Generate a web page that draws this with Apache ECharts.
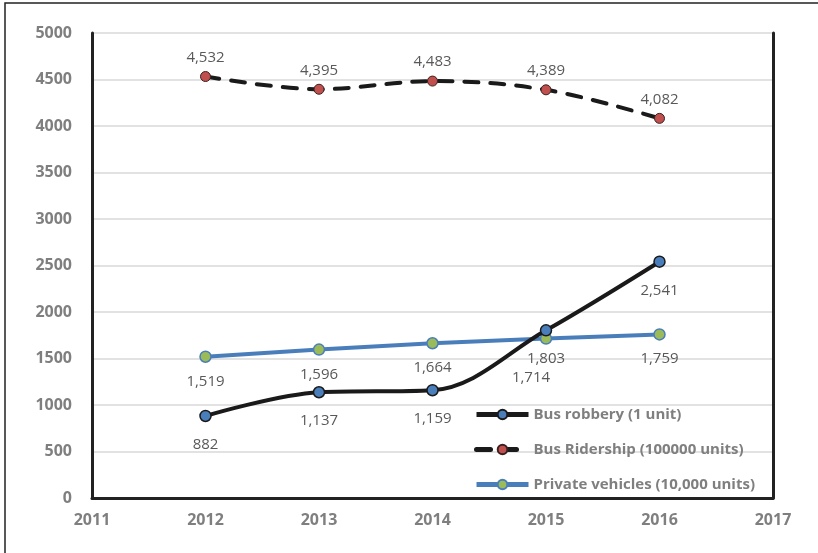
<!DOCTYPE html>
<html lang="en">
<head>
    <meta charset="UTF-8">
    <title>Bus robbery chart</title>
    <style>
        html, body { margin: 0; padding: 0; background: #fff; }
        #main { width: 818px; height: 553px; }
    </style>
</head>
<body>
<div id="main"></div>
<script src="https://cdn.jsdelivr.net/npm/echarts@6/dist/echarts.min.js"></script>
<script>
    // data
    const years = [2012, 2013, 2014, 2015, 2016];
    const busRobbery = [882, 1137, 1159, 1803, 2541];
    const busRidership = [4532, 4395, 4483, 4389, 4082];
    const privateVehicles = [1519, 1596, 1664, 1714, 1759];
    const seriesNames = ['Bus robbery (1 unit)', 'Bus Ridership (100000 units)', 'Private vehicles (10,000 units)'];

    const fontFamily = '"Open Sans", "Noto Sans", sans-serif';
    const fmt = v => v.toLocaleString('en-US');

    function pairs(vals) {
        return years.map((y, i) => [y, vals[i]]);
    }

    const labelStyle = {
        show: true,
        color: '#595959',
        fontSize: 15,
        fontFamily: fontFamily,
        formatter: p => fmt(p.value[1])
    };

    // 1,714 label sits a bit off to the lower left in the original
    const privData = pairs(privateVehicles).map((d, i) =>
        years[i] === 2015 ? { value: d, label: { offset: [-15, 14] } } : d);

    const axisText = {color: '#7f7f7f', fontSize: 16, fontWeight: 'bold', fontFamily: fontFamily};
    const frame = {show: true, lineStyle: {color: '#222', width: 3}};

    const myChart = echarts.init(document.getElementById('main'), null, {renderer: 'canvas'});

    const option = {
        animation: false,
        graphic: [{
            type: 'rect',
            shape: {x: 5, y: 3, width: 900, height: 700},
            style: {fill: 'none', stroke: '#222', lineWidth: 1.5},
            silent: true
        }],
        grid: {left: 92, right: 45, top: 33, bottom: 55},
        legend: {
            orient: 'vertical',
            right: 58, top: 402,
            itemWidth: 52, itemHeight: 12, itemGap: 20,
            lineStyle: {width: 5},
            textStyle: {color: '#7f7f7f', fontSize: 15, fontWeight: 'bold', fontFamily: fontFamily},
            data: seriesNames
        },
        xAxis: [{
            type: 'value', min: 2011, max: 2017, interval: 1,
            axisLine: {show: true, lineStyle: {color: '#222', width: 2}},
            axisTick: {show: false},
            splitLine: {show: false},
            axisLabel: Object.assign({margin: 14, formatter: v => String(v)}, axisText)
        }, {
            type: 'value', position: 'top', min: 2011, max: 2017,
            axisLine: frame, axisTick: {show: false}, axisLabel: {show: false}, splitLine: {show: false}
        }],
        yAxis: [{
            type: 'value', min: 0, max: 5000, interval: 500,
            axisLine: frame,
            axisTick: {show: false},
            splitLine: {lineStyle: {color: '#d9d9d9', width: 1.5}},
            axisLabel: Object.assign({margin: 20, formatter: v => String(v)}, axisText)
        }, {
            type: 'value', position: 'right', min: 0, max: 5000,
            axisLine: frame, axisTick: {show: false}, axisLabel: {show: false}, splitLine: {show: false}
        }],
        series: [{
            name: seriesNames[0],
            type: 'line',
            smooth: 0.35,
            data: pairs(busRobbery),
            symbol: 'circle', symbolSize: 11,
            lineStyle: {color: '#1a1a1a', width: 4},
            itemStyle: {color: '#4a7ebb', borderColor: '#1a1a1a', borderWidth: 1.5},
            label: Object.assign({}, labelStyle, {position: 'bottom', distance: 15}),
            z: 3
        }, {
            name: seriesNames[1],
            type: 'line',
            smooth: 0.35,
            data: pairs(busRidership),
            symbol: 'circle', symbolSize: 10,
            lineStyle: {color: '#1a1a1a', width: 4, type: [14, 12], cap: 'round'},
            itemStyle: {color: '#c0504d', borderColor: '#3a2020', borderWidth: 1},
            label: Object.assign({}, labelStyle, {position: 'top', distance: 6}),
            z: 3
        }, {
            name: seriesNames[2],
            type: 'line',
            data: privData,
            symbol: 'circle', symbolSize: 11,
            lineStyle: {color: '#4a7ebb', width: 4},
            itemStyle: {color: '#9bbb59', borderColor: '#4a7ebb', borderWidth: 1.5},
            label: Object.assign({}, labelStyle, {position: 'bottom', distance: 11}),
            z: 2
        }]
    };

    myChart.setOption(option);
</script>
</body>
</html>
